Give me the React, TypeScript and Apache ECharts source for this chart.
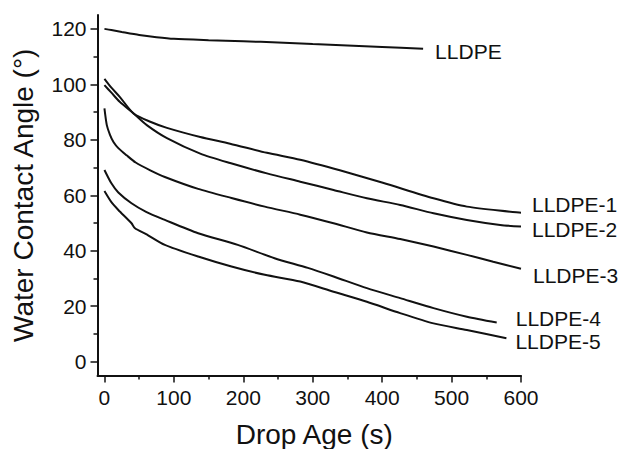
import React, { useEffect, useRef } from "react";
import * as echarts from "echarts";

const seriesNames = ["LLDPE", "LLDPE-1", "LLDPE-2", "LLDPE-3", "LLDPE-4", "LLDPE-5"];

const lldpe: [number, number][] = [
  [0, 120], [10, 119.6], [25, 118.9], [50, 117.8], [75, 117], [100, 116.4], [150, 115.9],
  [200, 115.5], [250, 115.1], [300, 114.5], [350, 114], [400, 113.5], [459, 112.8],
];
const lldpe1: [number, number][] = [
  [0, 102], [10, 98.8], [22, 95.5], [42, 89.5], [66, 86.5], [90, 84.3], [138, 81], [181, 78.6],
  [234, 75.3], [282, 72.8], [339, 69], [401, 64.5], [474, 58.9], [522, 55.9], [600, 53.7],
];
const lldpe2: [number, number][] = [
  [0, 99.7], [10, 97], [22, 93.7], [42, 89.5], [61, 85.3], [90, 80.6], [138, 75], [181, 71.6],
  [234, 67.9], [282, 64.9], [330, 61.9], [378, 58.9], [426, 56.5], [474, 53.5], [522, 51.1],
  [570, 49.3], [600, 48.7],
];
const lldpe3: [number, number][] = [
  [0, 91.3], [3.4, 85.3], [8, 81.8], [13, 79.2], [20, 77], [32, 74.4], [45, 71.8], [66, 69],
  [87, 66.6], [135, 62.3], [183, 59], [231, 55.9], [282, 53], [330, 49.9], [378, 46.6],
  [426, 44.2], [474, 41.5], [522, 38.5], [560, 36], [600, 33.5],
];
const lldpe4: [number, number][] = [
  [0, 69.1], [10, 64.3], [20, 61], [39, 57.1], [60, 54], [87, 51.1], [135, 46.3], [192, 42.1],
  [245, 37.3], [293, 33.8], [330, 30.7], [378, 26.5], [426, 22.9], [474, 19.3], [522, 16.2], [565, 14.1],
];
const lldpe5: [number, number][] = [
  [0, 61.5], [10, 57.5], [20, 54.7], [39, 49.9], [44, 48.1], [60, 46], [87, 42.1], [135, 37.9],
  [183, 34.3], [231, 31.3], [282, 28.9], [330, 25.2], [378, 21.6], [426, 17.5], [474, 13.8],
  [522, 11.4], [579, 8.4],
];
const seriesData = [lldpe, lldpe1, lldpe2, lldpe3, lldpe4, lldpe5];
const labelOffsets: [number, number][] = [
  [7, 3], [6, -8], [6, 3], [7, 7], [14, -4], [4, 3],
];

const xMajorTicks = [0, 100, 200, 300, 400, 500, 600];
const xMinorTicks = [50, 150, 250, 350, 450, 550];
const yMajorTicks = [0, 20, 40, 60, 80, 100, 120];
const yMinorTicks = [10, 30, 50, 70, 90, 110];

const FONT = 'Arial, "Liberation Sans", Helvetica, sans-serif';
const INK = "#111";

export default function App() {
  const ref = useRef<HTMLDivElement>(null);
  useEffect(() => {
    if (!ref.current) return;
    const chart = echarts.init(ref.current, undefined, { renderer: "svg" });
    const commonX = { type: "value", min: -10, max: 600, splitLine: { show: false } };
    const commonY = { type: "value", min: -5, max: 125, splitLine: { show: false } };
    chart.setOption({
      animation: false,
      backgroundColor: "#fff",
      grid: {
        left: 97.5, right: 101, top: 15, bottom: 73.5,
        containLabel: false, outerBoundsMode: "none",
      },
      xAxis: [
        {
          ...commonX,
          position: "bottom",
          name: "Drop Age (s)",
          nameLocation: "middle",
          nameGap: 45,
          nameTextStyle: { fontFamily: FONT, fontSize: 28, color: INK, padding: [0, 0, 0, 10] },
          axisLine: { show: true, onZero: false, lineStyle: { color: INK, width: 2 } },
          axisTick: { show: true, customValues: xMajorTicks, length: 7, lineStyle: { color: INK, width: 1.5 } },
          axisLabel: { show: true, customValues: xMajorTicks, margin: 11, fontFamily: FONT, fontSize: 21, color: INK },
        },
        {
          ...commonX,
          position: "bottom",
          axisLine: { show: false, onZero: false },
          axisTick: { show: true, customValues: xMinorTicks, length: 4, lineStyle: { color: INK, width: 1.5 } },
          axisLabel: { show: false },
        },
      ],
      yAxis: [
        {
          ...commonY,
          position: "left",
          name: "Water Contact Angle (°)",
          nameLocation: "middle",
          nameGap: 60,
          nameRotate: 90,
          nameTextStyle: { fontFamily: FONT, fontSize: 28, color: INK },
          axisLine: { show: true, onZero: false, lineStyle: { color: INK, width: 2 } },
          axisTick: { show: true, customValues: yMajorTicks, length: 7, lineStyle: { color: INK, width: 1.5 } },
          axisLabel: { show: true, customValues: yMajorTicks, margin: 11, fontFamily: FONT, fontSize: 21, color: INK },
        },
        {
          ...commonY,
          position: "left",
          axisLine: { show: false, onZero: false },
          axisTick: { show: true, customValues: yMinorTicks, length: 4, lineStyle: { color: INK, width: 1.5 } },
          axisLabel: { show: false },
        },
      ],
      series: seriesNames.map((name, i) => ({
        name,
        type: "line",
        xAxisIndex: 0,
        yAxisIndex: 0,
        data: seriesData[i],
        showSymbol: false,
        symbol: "none",
        smooth: 0.25,
        lineStyle: { color: INK, width: 2 },
        endLabel: {
          show: true,
          formatter: name,
          fontFamily: FONT,
          fontSize: 21,
          color: INK,
          distance: 5,
          offset: labelOffsets[i],
        },
      })),
    });
    return () => chart.dispose();
  }, []);
  return (
    <div
      ref={ref}
      style={{ position: "fixed", left: 0, top: 0, width: 622, height: 449, background: "#fff" }}
    />
  );
}
